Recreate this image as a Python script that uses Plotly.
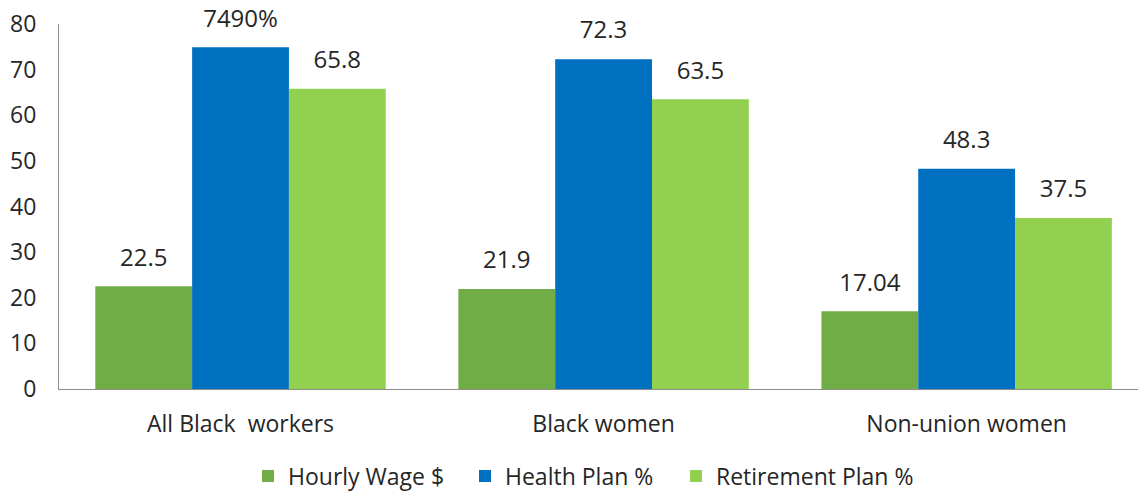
import plotly.graph_objects as go

categories = ["All Black  workers", "Black women", "Non-union women"]
series_names = ["Hourly Wage $", "Health Plan %", "Retirement Plan %"]
hourly_wage = [22.5, 21.9, 17.04]
health_plan = [74.9, 72.3, 48.3]
retirement_plan = [65.8, 63.5, 37.5]
hourly_labels = ["22.5", "21.9", "17.04"]
health_labels = ["7490%", "72.3", "48.3"]
retirement_labels = ["65.8", "63.5", "37.5"]
y_ticks = [0, 10, 20, 30, 40, 50, 60, 70, 80]

colors = ["#70AD47", "#0070C0", "#92D050"]
values = [hourly_wage, health_plan, retirement_plan]
labels = [hourly_labels, health_labels, retirement_labels]
legend_ids = ["legend", "legend2", "legend3"]
legend_x = [248, 465, 676]

FONT = "Open Sans"
TXT = "#262626"
W, H = 1138, 492
fig = go.Figure()
for name, vals, col, lg in zip(series_names, values, colors, legend_ids):
    fig.add_trace(go.Bar(x=categories, y=vals, name=name, marker_color=col,
                         marker_line_width=0, legend=lg))
for name, vals, labs in zip(series_names, values, labels):
    fig.add_trace(go.Scatter(x=categories, y=vals, text=labs, mode="markers+text",
                             textposition="top center", showlegend=False,
                             marker=dict(size=22, color="rgba(0,0,0,0)"),
                             textfont=dict(family=FONT, size=24, color=TXT),
                             hoverinfo="skip", cliponaxis=False))

legend_common = dict(orientation="h", xref="container", yref="container",
                     xanchor="left", y=16 / H, yanchor="middle",
                     font=dict(family=FONT, size=23, color=TXT),
                     bgcolor="rgba(0,0,0,0)")
layout_legends = {}
for lg, lx in zip(legend_ids, legend_x):
    layout_legends[lg] = dict(legend_common, x=lx / W)

fig.update_layout(
    width=W, height=H,
    margin=dict(l=59, r=0, t=24, b=103, autoexpand=False),
    paper_bgcolor="white", plot_bgcolor="white",
    barmode="group", bargap=0.2, bargroupgap=0,
    scattermode="group", scattergap=0.2,
    font=dict(family=FONT, size=23, color=TXT),
    showlegend=True,
    **layout_legends,
)
fig.update_xaxes(type="category", range=[-0.5, 2.472], showline=True, linecolor="#8C8C8C",
                 linewidth=1, ticks="", showgrid=False, automargin=False,
                 tickfont=dict(size=23), ticklabelstandoff=14)
fig.update_yaxes(range=[0, 80], tickvals=y_ticks, showline=True, linecolor="#8C8C8C",
                 linewidth=1, showgrid=False, zeroline=False, ticks="", automargin=False,
                 tickfont=dict(size=23), ticklabelstandoff=17)

fig.write_html("out.html", config={"displayModeBar": False},
               post_script="document.body.style.margin='0';")
